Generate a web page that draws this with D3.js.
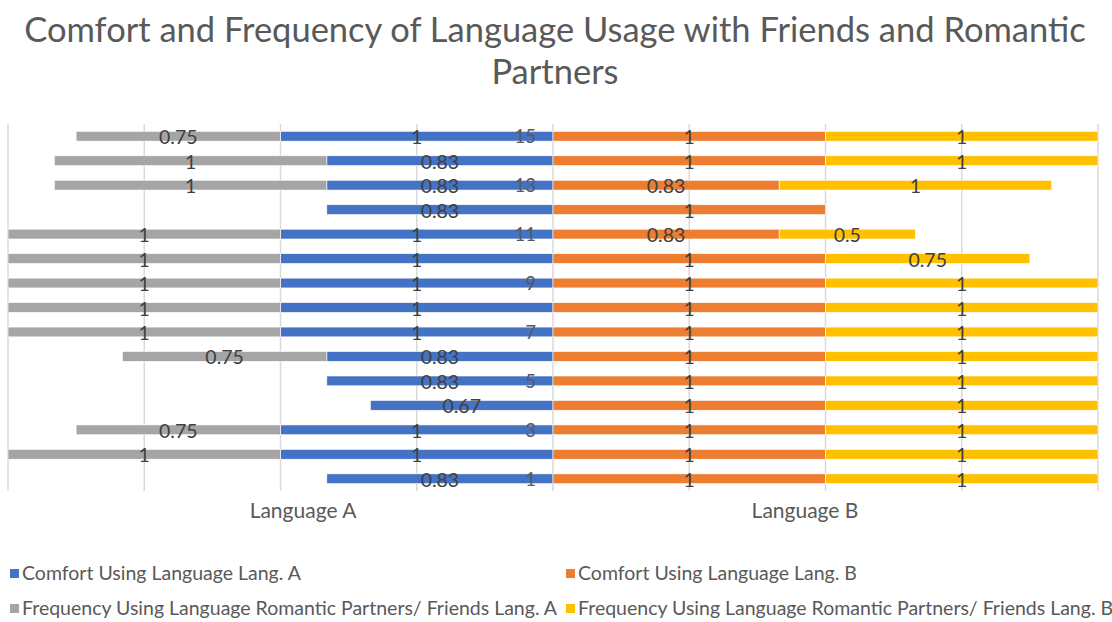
<!DOCTYPE html>
<html lang="en">
<head>
  <meta charset="UTF-8">
  <title>Comfort and Frequency of Language Usage</title>
  <script src="https://d3js.org/d3.v7.min.js"></script>
  <style>
    body { margin: 0; background: #fff; font-family: Lato, "Open Sans", sans-serif; }
    svg text { fill: #595959; }
    .lbl { fill: #404040; font-size: 19.5px; }
  </style>
</head>
<body>
  <svg width="1112" height="622"></svg>

  <script>
    // rows 1..15 (bottom to top)
    const rows     = d3.range(1, 16);
    const comfortA = [0.83, 1, 1, 0.67, 0.83, 0.83, 1, 1, 1, 1, 1, 0.83, 0.83, 0.83, 1];
    const freqA    = [0, 1, 0.75, 0, 0, 0.75, 1, 1, 1, 1, 1, 0, 1, 1, 0.75];
    const comfortB = [1, 1, 1, 1, 1, 1, 1, 1, 1, 1, 0.83, 1, 0.83, 1, 1];
    const freqB    = [1, 1, 1, 1, 1, 1, 1, 1, 1, 0.75, 0.5, 0, 1, 1, 1];
    const gridTicks = [-2, -1.5, -1, -0.5, 0, 0.5, 1, 1.5, 2];
    const seriesNames = [
      "Comfort Using Language Lang. A",
      "Comfort Using Language Lang. B",
      "Frequency Using Language Romantic Partners/ Friends Lang. A",
      "Frequency Using Language Romantic Partners/ Friends Lang. B"
    ];
    const colors = ["#4472C4", "#ED7D31", "#A5A5A5", "#FFC000"];

    const svg = d3.select("svg");

    // title
    svg.append("text")
       .attr("text-anchor", "middle")
       .attr("font-size", 34.5)
       .selectAll("tspan")
       .data(["Comfort and Frequency of Language Usage with Friends and Romantic", "Partners"])
       .join("tspan")
         .attr("x", 555)
         .attr("y", (d, i) => 42 + i * 42)
         .text(d => d);

    const x = d3.scaleLinear().domain([-2, 2]).range([8, 1098]);
    const y = d3.scaleBand().domain(rows.slice().reverse()).range([124, 491]).paddingInner(0.6).paddingOuter(0.3);

    // vertical gridlines
    svg.append("g").selectAll("line")
       .data(gridTicks)
       .join("line")
         .attr("x1", d => x(d)).attr("x2", d => x(d))
         .attr("y1", 124).attr("y2", 491)
         .attr("stroke", "#d9d9d9").attr("stroke-width", 1.5);

    // segments: [start, end, value, colorIndex]
    const segs = [];
    rows.forEach((r, i) => {
      segs.push({ r, x0: -comfortA[i], x1: 0, v: comfortA[i], c: 0 });
      if (freqA[i] > 0) segs.push({ r, x0: -comfortA[i] - freqA[i], x1: -comfortA[i], v: freqA[i], c: 2 });
      segs.push({ r, x0: 0, x1: comfortB[i], v: comfortB[i], c: 1 });
      if (freqB[i] > 0) segs.push({ r, x0: comfortB[i], x1: comfortB[i] + freqB[i], v: freqB[i], c: 3 });
    });

    svg.append("g").selectAll("rect")
       .data(segs)
       .join("rect")
         .attr("x", d => x(d.x0))
         .attr("width", d => x(d.x1) - x(d.x0))
         .attr("y", d => y(d.r))
         .attr("height", y.bandwidth())
         .attr("fill", d => colors[d.c])
         .attr("stroke", "#fff").attr("stroke-width", 0.6);

    // category labels (odd rows only)
    svg.append("g").selectAll("text")
       .data(rows.filter(r => r % 2 === 1))
       .join("text")
         .attr("x", 536)
         .attr("y", d => y(d) + y.bandwidth() / 2 + 7)
         .attr("text-anchor", "end")
         .attr("font-size", 18.5)
         .text(d => d);

    // data labels
    svg.append("g").selectAll("text")
       .data(segs)
       .join("text")
         .attr("class", "lbl")
         .attr("x", d => x((d.x0 + d.x1) / 2))
         .attr("y", d => y(d.r) + y.bandwidth() / 2 + 8)
         .attr("text-anchor", "middle")
         .text(d => d.v);

    // axis titles
    svg.append("text").attr("x", 303).attr("y", 518).attr("text-anchor", "middle")
       .attr("font-size", 21).text("Language A");
    svg.append("text").attr("x", 805).attr("y", 518).attr("text-anchor", "middle")
       .attr("font-size", 21).text("Language B");

    // legend
    const legPos = [[10, 580], [566, 580], [10, 615], [566, 615]];
    const leg = svg.append("g").selectAll("g")
       .data(seriesNames)
       .join("g")
         .attr("transform", (d, i) => `translate(${legPos[i][0]},${legPos[i][1]})`);
    leg.append("rect").attr("x", 0).attr("y", -11).attr("width", 9).attr("height", 9)
       .attr("fill", (d, i) => colors[i]);
    leg.append("text").attr("x", 12).attr("y", 0).attr("font-size", 19.5).text(d => d);
  </script>
</body>
</html>
